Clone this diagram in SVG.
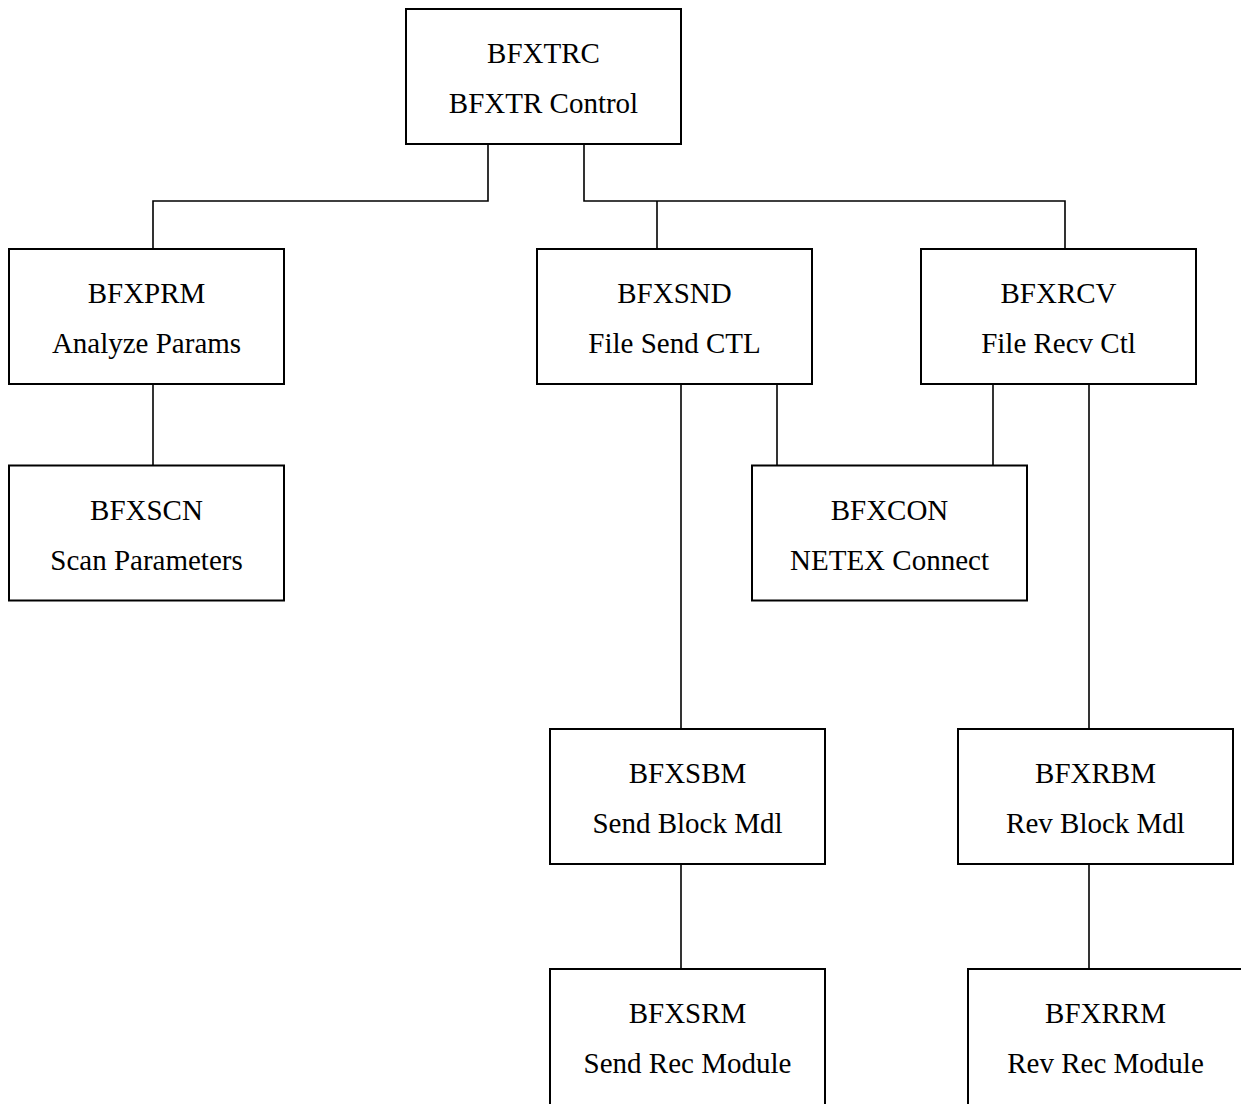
<svg xmlns="http://www.w3.org/2000/svg" width="1241" height="1104" viewBox="0 0 1241 1104">
<style>
  .box { fill: #ffffff; stroke: #000000; stroke-width: 2; }
  .lbl { font-family: "Liberation Serif", "Times New Roman", serif; font-size: 29px; fill: #000000; text-anchor: middle; }
  .conn { fill: none; stroke: #000000; stroke-width: 1.6; }
</style>
<rect x="0" y="0" width="1241" height="1104" fill="#ffffff"/>
<g id="connectors">
  <polyline class="conn" points="488,144 488,201 153,201 153,249"/>
  <polyline class="conn" points="584,144 584,201 1065,201 1065,249"/>
  <line class="conn" x1="657" y1="201" x2="657" y2="249"/>
  <line class="conn" x1="153" y1="384" x2="153" y2="465"/>
  <line class="conn" x1="681" y1="384" x2="681" y2="729"/>
  <line class="conn" x1="777" y1="384" x2="777" y2="465"/>
  <line class="conn" x1="993" y1="384" x2="993" y2="465"/>
  <line class="conn" x1="1089" y1="384" x2="1089" y2="729"/>
  <line class="conn" x1="681" y1="864" x2="681" y2="969"/>
  <line class="conn" x1="1089" y1="864" x2="1089" y2="969"/>
</g>
<g id="BFXTRC">
  <rect class="box" x="406" y="9" width="275" height="135"/>
  <text class="lbl" x="543.5" y="63">BFXTRC</text>
  <text class="lbl" x="543.5" y="113">BFXTR Control</text>
</g>
<g id="BFXPRM">
  <rect class="box" x="9" y="249" width="275" height="135"/>
  <text class="lbl" x="146.5" y="303">BFXPRM</text>
  <text class="lbl" x="146.5" y="353">Analyze Params</text>
</g>
<g id="BFXSCN">
  <rect class="box" x="9" y="465.5" width="275" height="135"/>
  <text class="lbl" x="146.5" y="519.5">BFXSCN</text>
  <text class="lbl" x="146.5" y="569.5">Scan Parameters</text>
</g>
<g id="BFXSND">
  <rect class="box" x="537" y="249" width="275" height="135"/>
  <text class="lbl" x="674.5" y="303">BFXSND</text>
  <text class="lbl" x="674.5" y="353">File Send CTL</text>
</g>
<g id="BFXRCV">
  <rect class="box" x="921" y="249" width="275" height="135"/>
  <text class="lbl" x="1058.5" y="303">BFXRCV</text>
  <text class="lbl" x="1058.5" y="353">File Recv Ctl</text>
</g>
<g id="BFXCON">
  <rect class="box" x="752" y="465.5" width="275" height="135"/>
  <text class="lbl" x="889.5" y="519.5">BFXCON</text>
  <text class="lbl" x="889.5" y="569.5">NETEX Connect</text>
</g>
<g id="BFXSBM">
  <rect class="box" x="550" y="729" width="275" height="135"/>
  <text class="lbl" x="687.5" y="783">BFXSBM</text>
  <text class="lbl" x="687.5" y="833">Send Block Mdl</text>
</g>
<g id="BFXRBM">
  <rect class="box" x="958" y="729" width="275" height="135"/>
  <text class="lbl" x="1095.5" y="783">BFXRBM</text>
  <text class="lbl" x="1095.5" y="833">Rev Block Mdl</text>
</g>
<g id="BFXSRM">
  <rect class="box" x="550" y="969" width="275" height="136"/>
  <text class="lbl" x="687.5" y="1023">BFXSRM</text>
  <text class="lbl" x="687.5" y="1073">Send Rec Module</text>
</g>
<g id="BFXRRM">
  <rect class="box" x="968" y="969" width="275" height="136"/>
  <text class="lbl" x="1105.5" y="1023">BFXRRM</text>
  <text class="lbl" x="1105.5" y="1073">Rev Rec Module</text>
</g>
</svg>
